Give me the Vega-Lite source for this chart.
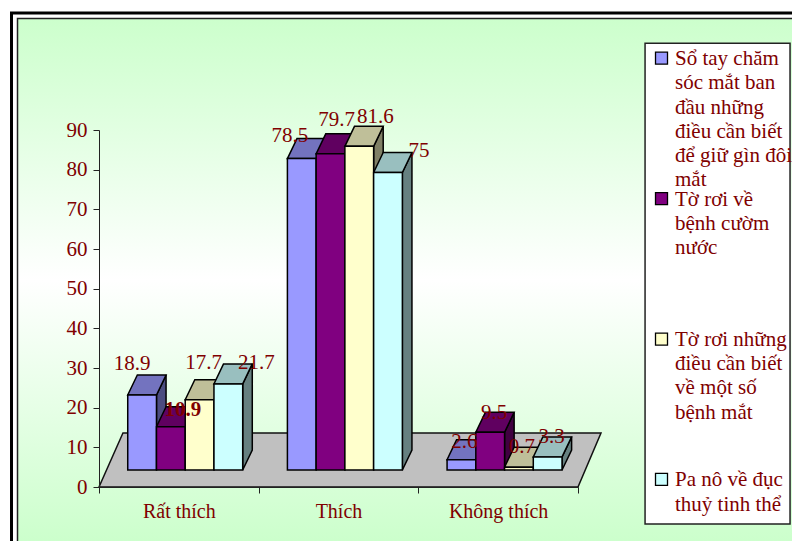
{
  "$schema": "https://vega.github.io/schema/vega-lite/v6.json",
  "autosize": "none",
  "width": 479,
  "height": 357,
  "padding": {"left": 99, "top": 130, "right": 214, "bottom": 54},
  "background": "white",
  "config": {
    "view": {"stroke": null},
    "text": {"font": "Liberation Serif", "fontSize": 21, "color": "#800000", "baseline": "middle"}
  },
  "datasets": {
    "bars": [
      {"category": "Rất thích", "series": "Sổ tay chăm sóc mắt ban đầu những điều cần biết để giữ gìn đôi mắt", "value": 18.9},
      {"category": "Rất thích", "series": "Tờ rơi về bệnh cườm nước", "value": 10.9},
      {"category": "Rất thích", "series": "Tờ rơi những điều cần biết về một số bệnh mắt", "value": 17.7},
      {"category": "Rất thích", "series": "Pa nô về đục thuỷ tinh thể", "value": 21.7},
      {"category": "Thích", "series": "Sổ tay chăm sóc mắt ban đầu những điều cần biết để giữ gìn đôi mắt", "value": 78.5},
      {"category": "Thích", "series": "Tờ rơi về bệnh cườm nước", "value": 79.7},
      {"category": "Thích", "series": "Tờ rơi những điều cần biết về một số bệnh mắt", "value": 81.6},
      {"category": "Thích", "series": "Pa nô về đục thuỷ tinh thể", "value": 75},
      {"category": "Không thích", "series": "Sổ tay chăm sóc mắt ban đầu những điều cần biết để giữ gìn đôi mắt", "value": 2.6},
      {"category": "Không thích", "series": "Tờ rơi về bệnh cườm nước", "value": 9.5},
      {"category": "Không thích", "series": "Tờ rơi những điều cần biết về một số bệnh mắt", "value": 0.7},
      {"category": "Không thích", "series": "Pa nô về đục thuỷ tinh thể", "value": 3.3}
    ],
    "floor": [
      {"level": 0, "left": 0, "right": 3},
      {"level": 13.6, "left": 0.15, "right": 3.144}
    ],
    "key": [
      {"slot": 0, "series": "Sổ tay chăm sóc mắt ban đầu những điều cần biết để giữ gìn đôi mắt", "label": "Sổ tay chăm|sóc mắt ban|đầu những|điều cần biết|để giữ gìn đôi|mắt"},
      {"slot": 1, "series": "Tờ rơi về bệnh cườm nước", "label": "Tờ rơi về|bệnh cườm|nước"},
      {"slot": 2, "series": "Tờ rơi những điều cần biết về một số bệnh mắt", "label": "Tờ rơi những|điều cần biết|về một số|bệnh mắt"},
      {"slot": 3, "series": "Pa nô về đục thuỷ tinh thể", "label": "Pa nô về đục|thuỷ tinh thể"}
    ]
  },
  "data": {"name": "bars"},
  "transform": [
    {"calculate": "indexof(['Rất thích','Thích','Không thích'], datum.category)", "as": "c"},
    {"calculate": "indexof(['Sổ tay chăm sóc mắt ban đầu những điều cần biết để giữ gìn đôi mắt','Tờ rơi về bệnh cườm nước','Tờ rơi những điều cần biết về một số bệnh mắt','Pa nô về đục thuỷ tinh thể'], datum.series)", "as": "s"},
    {"calculate": "datum.c + 0.18 + datum.s * 0.18", "as": "xL"},
    {"calculate": "datum.xL + 0.18", "as": "xR"},
    {"calculate": "datum.xL + 0.09", "as": "xMid"},
    {"calculate": "datum.value + 4.29", "as": "yTop"},
    {"calculate": "datum.c + '-' + datum.s", "as": "bar"}
  ],
  "layer": [
    {
      "data": {"values": [{}]},
      "mark": {"type": "rect", "fill": "white", "stroke": "black", "strokeWidth": 3},
      "encoding": {
        "x": {
          "datum": -0.548, "type": "quantitative", "title": null,
          "scale": {"domain": [0, 3], "nice": false, "zero": false},
          "axis": {
            "values": [0, 1, 2, 3], "zindex": 1, "grid": false, "title": null,
            "domainColor": "#222222", "tickColor": "#222222", "tickSize": 6,
            "labelFont": "Liberation Serif", "labelFontSize": 20, "labelColor": "#800000",
            "labelOffset": 79.8, "labelPadding": 8, "labelFlush": false, "labelOverlap": false,
            "labelExpr": "datum.value == 0 ? 'Rất thích' : datum.value == 1 ? 'Thích' : datum.value == 2 ? 'Không thích' : ''"
          }
        },
        "x2": {"datum": 4.4},
        "y": {
          "datum": 119.5, "type": "quantitative", "title": null,
          "scale": {"domain": [0, 90], "nice": false, "zero": false},
          "axis": {
            "values": [0, 10, 20, 30, 40, 50, 60, 70, 80, 90], "tickCount": 10, "zindex": 1, "grid": false, "title": null,
            "domainColor": "#222222", "tickColor": "#222222", "tickSize": 6,
            "labelFont": "Liberation Serif", "labelFontSize": 21, "labelColor": "#800000",
            "labelPadding": 6, "labelOverlap": false, "labelFlush": false
          }
        },
        "y2": {"datum": -18.4}
      }
    },
    {
      "data": {"values": [{}]},
      "mark": {
        "type": "rect", "stroke": "#222222", "strokeWidth": 1.5,
        "fill": {
          "gradient": "linear", "x1": 0, "y1": 0, "x2": 0, "y2": 1,
          "stops": [
            {"offset": 0, "color": "#CCFFCC"},
            {"offset": 0.483, "color": "#FFFFFF"},
            {"offset": 0.965, "color": "#CCFFCC"},
            {"offset": 1, "color": "#CCFFCC"}
          ]
        }
      },
      "encoding": {
        "x": {"datum": -0.5104, "type": "quantitative", "scale": {"domain": [0, 3], "nice": false, "zero": false}},
        "x2": {"datum": 4.4},
        "y": {"datum": 118.1, "type": "quantitative", "scale": {"domain": [0, 90], "nice": false, "zero": false}},
        "y2": {"datum": -18.4}
      }
    },
    {
      "data": {"name": "floor"},
      "mark": {"type": "area", "orient": "horizontal", "fill": "#C0C0C0", "stroke": "#111111", "strokeWidth": 1.5},
      "encoding": {
        "y": {"field": "level", "type": "quantitative", "scale": {"domain": [0, 90], "nice": false, "zero": false}},
        "x": {"field": "left", "type": "quantitative", "scale": {"domain": [0, 3], "nice": false, "zero": false}},
        "x2": {"field": "right"}
      }
    },
    {
      "transform": [
        {"calculate": "[0, 1]", "as": "edge"},
        {"flatten": ["edge"]},
        {"calculate": "datum.xR + datum.edge * 0.06", "as": "px"},
        {"calculate": "datum.yTop + datum.edge * 5.04", "as": "pTop"},
        {"calculate": "4.29 + datum.edge * 5.04", "as": "pBase"}
      ],
      "mark": {"type": "area", "orient": "vertical", "stroke": "black", "strokeWidth": 1.5},
      "encoding": {
        "x": {"field": "px", "type": "quantitative", "scale": {"domain": [0, 3], "nice": false, "zero": false}},
        "y": {"field": "pTop", "type": "quantitative", "stack": null, "scale": {"domain": [0, 90], "nice": false, "zero": false}},
        "y2": {"field": "pBase"},
        "detail": {"field": "bar"},
        "fill": {
          "field": "series", "type": "nominal", "legend": null,
          "scale": {
            "domain": ["Sổ tay chăm sóc mắt ban đầu những điều cần biết để giữ gìn đôi mắt", "Tờ rơi về bệnh cườm nước", "Tờ rơi những điều cần biết về một số bệnh mắt", "Pa nô về đục thuỷ tinh thể"],
            "range": ["#4C4C80", "#400040", "#808066", "#668080"]
          }
        }
      }
    },
    {
      "transform": [
        {"calculate": "[0, 1]", "as": "edge"},
        {"flatten": ["edge"]},
        {"calculate": "datum.xL + datum.edge * 0.06", "as": "pLeft"},
        {"calculate": "datum.xR + datum.edge * 0.06", "as": "pRight"},
        {"calculate": "datum.yTop + datum.edge * 5.04", "as": "pTop"}
      ],
      "mark": {"type": "area", "orient": "horizontal", "stroke": "black", "strokeWidth": 1.5},
      "encoding": {
        "y": {"field": "pTop", "type": "quantitative", "scale": {"domain": [0, 90], "nice": false, "zero": false}},
        "x": {"field": "pLeft", "type": "quantitative", "stack": null, "scale": {"domain": [0, 3], "nice": false, "zero": false}},
        "x2": {"field": "pRight"},
        "detail": {"field": "bar"},
        "fill": {
          "field": "series", "type": "nominal", "legend": null,
          "scale": {
            "domain": ["Sổ tay chăm sóc mắt ban đầu những điều cần biết để giữ gìn đôi mắt", "Tờ rơi về bệnh cườm nước", "Tờ rơi những điều cần biết về một số bệnh mắt", "Pa nô về đục thuỷ tinh thể"],
            "range": ["#7373BF", "#600060", "#BFBF99", "#99BFBF"]
          }
        }
      }
    },
    {
      "mark": {"type": "rect", "stroke": "black", "strokeWidth": 1.5},
      "encoding": {
        "x": {"field": "xL", "type": "quantitative", "scale": {"domain": [0, 3], "nice": false, "zero": false}},
        "x2": {"field": "xR"},
        "y": {"field": "yTop", "type": "quantitative", "scale": {"domain": [0, 90], "nice": false, "zero": false}},
        "y2": {"datum": 4.29},
        "fill": {
          "field": "series", "type": "nominal", "legend": null,
          "scale": {
            "domain": ["Sổ tay chăm sóc mắt ban đầu những điều cần biết để giữ gìn đôi mắt", "Tờ rơi về bệnh cườm nước", "Tờ rơi những điều cần biết về một số bệnh mắt", "Pa nô về đục thuỷ tinh thể"],
            "range": ["#9999FF", "#800080", "#FFFFCC", "#CCFFFF"]
          }
        }
      }
    },
    {
      "encoding": {
        "x": {"field": "xMid", "type": "quantitative", "scale": {"domain": [0, 3], "nice": false, "zero": false}},
        "y": {"field": "yTop", "type": "quantitative", "scale": {"domain": [0, 90], "nice": false, "zero": false}},
        "text": {"field": "value", "type": "quantitative"}
      },
      "layer": [
        {"transform": [{"filter": "datum.value == 18.9"}], "mark": {"type": "text", "dx": -10, "dy": -31}},
        {"transform": [{"filter": "datum.value == 10.9"}], "mark": {"type": "text", "dx": 12, "dy": -17, "fontWeight": "bold"}},
        {"transform": [{"filter": "datum.value == 17.7"}], "mark": {"type": "text", "dx": 4, "dy": -37}},
        {"transform": [{"filter": "datum.value == 21.7"}], "mark": {"type": "text", "dx": 28, "dy": -21}},
        {"transform": [{"filter": "datum.value == 78.5"}], "mark": {"type": "text", "dx": -12, "dy": -23}},
        {"transform": [{"filter": "datum.value == 79.7"}], "mark": {"type": "text", "dx": 6, "dy": -34}},
        {"transform": [{"filter": "datum.value == 81.6"}], "mark": {"type": "text", "dx": 16, "dy": -29}},
        {"transform": [{"filter": "datum.value == 75"}], "mark": {"type": "text", "dx": 31, "dy": -21}},
        {"transform": [{"filter": "datum.value == 2.6"}], "mark": {"type": "text", "dx": 3, "dy": -18}},
        {"transform": [{"filter": "datum.value == 9.5"}], "mark": {"type": "text", "dx": 4, "dy": -19}},
        {"transform": [{"filter": "datum.value == 0.7"}], "mark": {"type": "text", "dx": 3, "dy": -20}},
        {"transform": [{"filter": "datum.value == 3.3"}], "mark": {"type": "text", "dx": 4, "dy": -20}}
      ]
    },
    {
      "data": {"values": [{}]},
      "mark": {"type": "rect", "fill": "white", "stroke": "#222222", "strokeWidth": 1.5},
      "encoding": {
        "x": {"datum": 3.42, "type": "quantitative", "scale": {"domain": [0, 3], "nice": false, "zero": false}},
        "x2": {"datum": 4.328},
        "y": {"datum": 111.9, "type": "quantitative", "scale": {"domain": [0, 90], "nice": false, "zero": false}},
        "y2": {"datum": -9.3}
      }
    },
    {
      "data": {"name": "key"},
      "transform": [{"calculate": "108.1 - datum.slot * 35.4", "as": "keyY"}],
      "encoding": {
        "x": {"datum": 3.523, "type": "quantitative", "scale": {"domain": [0, 3], "nice": false, "zero": false}},
        "y": {"field": "keyY", "type": "quantitative", "scale": {"domain": [0, 90], "nice": false, "zero": false}}
      },
      "layer": [
        {
          "mark": {"type": "point", "shape": "square", "filled": true, "size": 144, "opacity": 1, "stroke": "black", "strokeWidth": 1.3},
          "encoding": {
            "fill": {
              "field": "series", "type": "nominal", "legend": null,
              "scale": {
                "domain": ["Sổ tay chăm sóc mắt ban đầu những điều cần biết để giữ gìn đôi mắt", "Tờ rơi về bệnh cườm nước", "Tờ rơi những điều cần biết về một số bệnh mắt", "Pa nô về đục thuỷ tinh thể"],
                "range": ["#9999FF", "#800080", "#FFFFCC", "#CCFFFF"]
              }
            }
          }
        },
        {
          "mark": {"type": "text", "align": "left", "baseline": "top", "lineBreak": "|", "lineHeight": 24.2, "dx": 13.5, "dy": -10},
          "encoding": {"text": {"field": "label", "type": "nominal"}}
        }
      ]
    }
  ],
  "resolve": {"scale": {"fill": "independent"}}
}
